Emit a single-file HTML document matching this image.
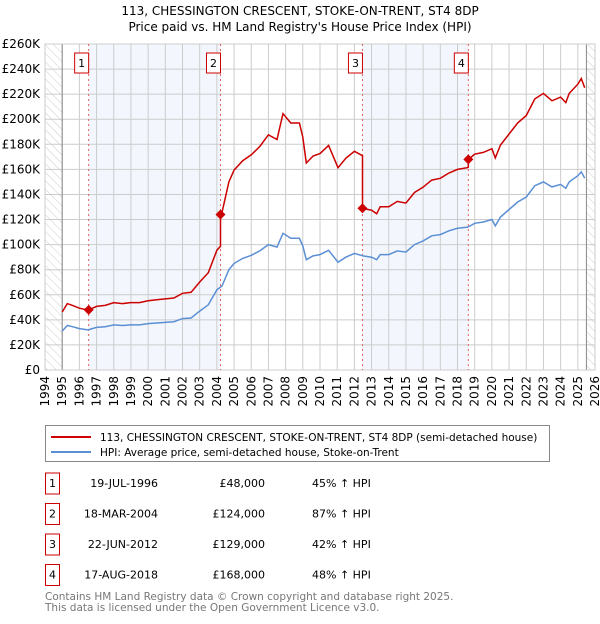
<!DOCTYPE html>
<html><head><meta charset="utf-8"><style>
body{margin:0;background:#fff;font-family:"DejaVu Sans","Liberation Sans",sans-serif;}
svg text{font-family:"DejaVu Sans","Liberation Sans",sans-serif;}
</style></head><body>
<svg id="c" width="600" height="620" viewBox="0 0 600 620" xmlns="http://www.w3.org/2000/svg">
<defs><pattern id="hatch" width="6" height="6" patternUnits="userSpaceOnUse" patternTransform="rotate(-45)"><line x1="0" y1="0" x2="0" y2="6" stroke="#ccc" stroke-width="1"/></pattern></defs>
<text x="300" y="15" text-anchor="middle" font-size="12">113, CHESSINGTON CRESCENT, STOKE-ON-TRENT, ST4 8DP</text>
<text x="300" y="31" text-anchor="middle" font-size="12">Price paid vs. HM Land Registry's House Price Index (HPI)</text>
<g id="plot"></g>
<g id="legend">
<rect x="45.5" y="425.5" width="504" height="36" fill="#fff" stroke="#888"/>
<line x1="51" y1="437" x2="91" y2="437" stroke="#cc0000" stroke-width="2"/>
<text x="100" y="441" font-size="10.5">113, CHESSINGTON CRESCENT, STOKE-ON-TRENT, ST4 8DP (semi-detached house)</text>
<line x1="51" y1="452" x2="91" y2="452" stroke="#5b8fd4" stroke-width="2"/>
<text x="100" y="456" font-size="10.5">HPI: Average price, semi-detached house, Stoke-on-Trent</text>
</g>
<g id="table"></g>
<text x="45" y="600" font-size="10.5" fill="#777">Contains HM Land Registry data © Crown copyright and database right 2025.</text>
<text x="45" y="611" font-size="10.5" fill="#777">This data is licensed under the Open Government Licence v3.0.</text>
</svg>
<script>
const hpiYears=[1995.0,1995.3,1995.6,1996.0,1996.5,1997.0,1997.5,1998.0,1998.5,1999.0,1999.5,2000.0,2000.5,2001.0,2001.5,2002.0,2002.5,2003.0,2003.5,2004.0,2004.3,2004.7,2005.0,2005.5,2006.0,2006.5,2007.0,2007.5,2007.85,2008.3,2008.8,2009.0,2009.2,2009.6,2010.0,2010.5,2011.05,2011.5,2012.0,2012.5,2013.0,2013.3,2013.5,2014.0,2014.5,2015.0,2015.5,2016.0,2016.5,2017.0,2017.5,2018.0,2018.6,2019.0,2019.5,2020.0,2020.2,2020.5,2021.0,2021.5,2022.0,2022.5,2023.0,2023.5,2024.0,2024.3,2024.5,2025.0,2025.2,2025.4];
const hpiValues=[31,35.5,34.5,33,32,34,34.5,36,35.5,36,36,37,37.5,38,38.5,41,41.5,47,52,64,67,80,85,89,91.5,95,100,98,109,105,105,99,88,91,92,95.5,86,90,93,91,90,88,92,92,95,94,100,103,107,108,111,113,114,117,118,120,115,122,128,134,138,147,150,146,148,145,150,155,158,153];
const saleYears=[2004-7.46,2004.21,2012.47,2018.63];
const salePrices=[48,124,129,168];
const saleLabels=['1','2','3','4'];
const saleDates=['19-JUL-1996','18-MAR-2004','22-JUN-2012','17-AUG-2018'];
const salePriceText=['£48,000','£124,000','£129,000','£168,000'];
const salePct=['45% ↑ HPI','87% ↑ HPI','42% ↑ HPI','48% ↑ HPI'];
const yTicks=[0,20,40,60,80,100,120,140,160,180,200,220,240,260];
const xTickYears=[];for(let y=1994;y<=2026;y++)xTickYears.push(y);

const NS='http://www.w3.org/2000/svg';
const X0=45,X1=595,Y0=370,Y1=44;
const xs=y=>X0+(y-1994)/32*(X1-X0);
const ys=v=>Y0-v/260*(Y0-Y1);
const plot=document.getElementById('plot');
function mk(t,a,p){const e=document.createElementNS(NS,t);for(const k in a)e.setAttribute(k,a[k]);(p||plot).appendChild(e);return e;}
function hpiAt(t){for(let i=0;i<hpiYears.length-1;i++){if(t<=hpiYears[i+1]){const f=(t-hpiYears[i])/(hpiYears[i+1]-hpiYears[i]);return hpiValues[i]+f*(hpiValues[i+1]-hpiValues[i]);}}return hpiValues[hpiValues.length-1];}
for(const [a,b] of [[0,1],[2,3]]){const r=mk('rect',{x:xs(saleYears[a]),y:Y1,width:xs(saleYears[b])-xs(saleYears[a]),height:Y0-Y1,fill:'#eef3fc',opacity:0.7});

}
let h=mk('rect',{x:X0,y:Y1,width:xs(1995)-X0,height:Y0-Y1,fill:'url(#hatch)'});


h=mk('rect',{x:xs(2025.5),y:Y1,width:X1-xs(2025.5),height:Y0-Y1,fill:'url(#hatch)'});


for(const v of yTicks){const l=mk('line',{x1:X0,x2:X1,y1:ys(v),y2:ys(v),stroke:'#ccc'});


const t=mk('text',{x:40,y:ys(v)+4,'text-anchor':'end','font-size':12});t.textContent=v===0?'£0':'£'+v+'K';

}
for(const y of xTickYears){const l=mk('line',{x1:xs(y),x2:xs(y),y1:Y1,y2:Y0,stroke:'#ccc'});


const t=mk('text',{x:0,y:0,'text-anchor':'end','font-size':12,transform:`translate(${xs(y)+4},${Y0+6}) rotate(-90)`});t.textContent=y;

}
mk('line',{x1:xs(1995),x2:xs(1995),y1:Y1,y2:Y0,stroke:'#888'});
mk('line',{x1:xs(2025.5),x2:xs(2025.5),y1:Y1,y2:Y0,stroke:'#888'});
mk('rect',{x:X0,y:Y1,width:X1-X0,height:Y0-Y1,fill:'none',stroke:'#ccc'});
saleYears.forEach((s,i)=>{const l=mk('line',{x1:xs(s),x2:xs(s),y1:Y1,y2:Y0,stroke:'#e06060','stroke-dasharray':'2,3'});


const b=mk('rect',{x:xs(s)-14,y:53,width:14,height:20,fill:'#fff',stroke:'#cc0000'});


const t=mk('text',{x:xs(s)-7,y:67,'text-anchor':'middle','font-size':11});t.textContent=saleLabels[i];

});
let d='';hpiYears.forEach((y,i)=>{d+=(i?'L':'M')+xs(y).toFixed(1)+','+ys(hpiValues[i]).toFixed(1);});
const hp=mk('path',{d,fill:'none',stroke:'#5b8fd4','stroke-width':1.5});


const pts=[...hpiYears.map((y,i)=>[y,null]),...saleYears.map(s=>[s,null])].sort((a,b)=>a[0]-b[0]);
let pd='';pts.forEach(([t],i)=>{let k=0;for(let j=0;j<saleYears.length;j++)if(t>=saleYears[j]-1e-9)k=j;
const v=salePrices[k]*hpiAt(t)/hpiAt(saleYears[k]);
if(i>0&&saleYears.some(s=>Math.abs(s-t)<1e-9)&&k>0){const pv=salePrices[k-1]*hpiAt(t)/hpiAt(saleYears[k-1]);pd+='L'+xs(t).toFixed(1)+','+ys(pv).toFixed(1);}
pd+=(i?'L':'M')+xs(t).toFixed(1)+','+ys(v).toFixed(1);});
const pp=mk('path',{d:pd,fill:'none',stroke:'#cc0000','stroke-width':1.5});


saleYears.forEach((s,i)=>{const c=mk('path',{d:`M${xs(s)},${ys(salePrices[i])-5}l5,5l-5,5l-5,-5z`,fill:'#cc0000'});

});
const tb=document.getElementById('table');
saleYears.forEach((s,i)=>{const cy=483+i*30.5;
const b=mk('rect',{x:45.5,y:cy-10,width:14,height:21,fill:'#fff',stroke:'#cc0000'},tb);


const cells=[[52.5,'middle',saleLabels[i],'table-label'],[158,'end',saleDates[i],'table-date'],[265,'end',salePriceText[i],'table-price'],[312,'start',salePct[i],'table-hpi-change']];
for(const [x,a,txt,n] of cells){const t=mk('text',{x,y:cy+4,'text-anchor':a,'font-size':11},tb);t.textContent=txt;

}});
</script>
</body></html>
